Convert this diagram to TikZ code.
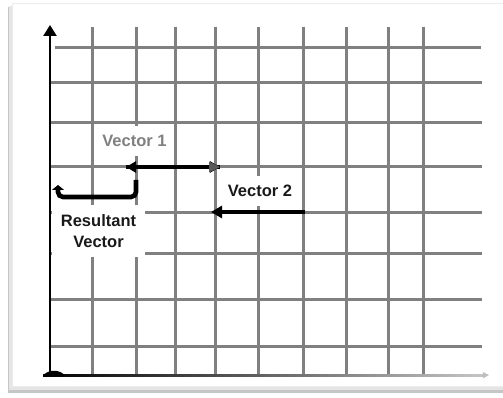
\documentclass[tikz,border=0pt]{standalone}
\usepackage{fontspec}
\setmainfont{Liberation Sans}
\usetikzlibrary{arrows.meta}

\tikzset{
  gridline/.style={line width=3pt, draw=black!50},
  vecline/.style={line width=3.2pt, draw=black},
  veclabel/.style={font=\bfseries\fontsize{16.5}{21}\selectfont, fill=white, inner xsep=2pt, inner ysep=9pt}
}

\begin{document}
\begin{tikzpicture}[x=1pt, y=-1pt]
    \useasboundingbox (0,0) rectangle (503,398);
    % frame with shadow
    \fill[gray!45] (8,7) rectangle (503,393);
    \fill[gray!20] (9,6) rectangle (503,390);
    \filldraw[fill=white, draw=gray!15, line width=1pt] (12,4) rectangle (504,386);

    % grid
    \foreach \gx in {92,136,175,215,258,303,346,388,423}
      \draw[gridline] (\gx,27) -- (\gx,375);
    \draw[gridline] (55,48) -- (481,48);
    \foreach \gy in {83,123,167,212,253,299,346}
      \draw[gridline] (50,\gy) -- (482,\gy);

    % labels (white boxes hide the grid)
    \node[veclabel, text=black!50] (lblone) at (134.5,141) {Vector 1};
    \node[veclabel, text=black!90] (lbltwo) at (260,191) {Vector 2};
    \node[veclabel, text=black!90, align=center, minimum width=93pt, minimum height=52pt, inner ysep=0pt] (lblres) at (98.5,231) {Resultant\\Vector};

    % axes
    \coordinate (origin) at (50,375);
    \coordinate (ytop) at (50,25);
    \coordinate (xend) at (489,375);
    \shade[left color=black, right color=gray!45] (43,374) rectangle (484,376.5);
    \draw[line width=1.2pt, gray!50, -{Triangle[length=6pt,width=6pt]}] (482,375.2) -- (xend);
    \draw[line width=2.4pt, -{Triangle[length=11pt,width=13pt]}] (origin) -- (ytop);
    \fill (43,376) .. controls (47,369) and (61,369) .. (65,376) -- cycle;

    % vectors
    \coordinate (vonea) at (126,167);
    \coordinate (voneb) at (220,167);
    \coordinate (vtwoa) at (305,212);
    \coordinate (vtwob) at (211,212);
    \coordinate (resa) at (136,180);
    \coordinate (resc) at (136,197);
    \coordinate (resd) at (58,197);
    \coordinate (resb) at (58,185);
    \draw[vecline, -{Triangle[length=10pt,width=11pt]}] (voneb) -- (vonea);
    \draw[vecline, -{Triangle[length=10pt,width=11pt]}] (vonea) -- (voneb);
    \fill[black!65] (220,167) -- (209,161.5) -- (209,172.5) -- cycle;
    \draw[vecline, line width=3.4pt, -{Triangle[length=11pt,width=12pt]}] (vtwoa) -- (vtwob);
    \draw[line width=4.6pt, rounded corners=5pt, -{Triangle[length=5pt,width=12pt]}] (resa) -- (resc) -- (resd) -- (resb);
\end{tikzpicture}
\end{document}
